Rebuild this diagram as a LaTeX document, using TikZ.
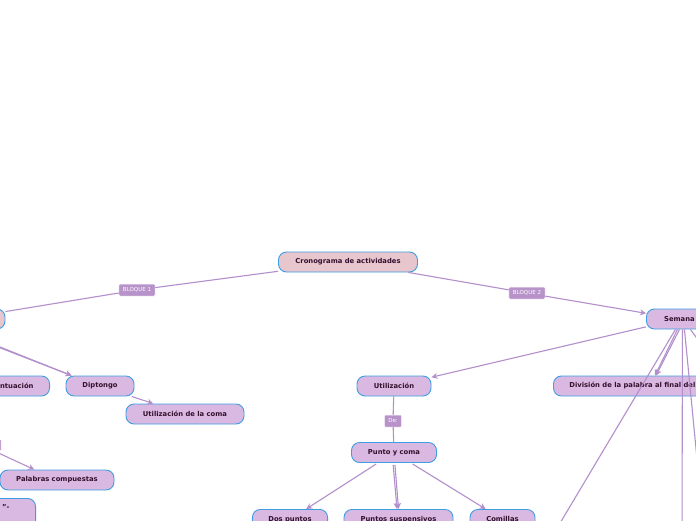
\documentclass[tikz,border=0pt]{standalone}
\usepackage{fontspec}
\setmainfont{DejaVu Sans}
\usetikzlibrary{arrows.meta}
\definecolor{edgec}{HTML}{B38FCB}
\definecolor{nodefill}{HTML}{D9B9E1}
\definecolor{rootfill}{HTML}{E7C6CE}
\definecolor{bord}{HTML}{3E9EE3}
\definecolor{txt}{HTML}{33102E}
\definecolor{lblfill}{HTML}{B793CA}
\tikzset{
 topic/.style={draw=bord, line width=0.9pt, fill=nodefill, rounded corners=8pt, minimum height=20pt, inner xsep=16pt, inner ysep=0pt, font=\fontsize{6.8}{8}\selectfont\bfseries, text=txt},
 rootnode/.style={topic, fill=rootfill},
 lbl/.style={fill=lblfill, draw=white, line width=0.5pt, rounded corners=1pt, font=\fontsize{5.5}{6}\selectfont, text=white, inner xsep=4pt, minimum height=12pt, inner ysep=0pt},
 conn/.style={draw=edgec, line width=1.1pt},
 arr/.style={conn, -{Stealth[length=6pt,width=6pt]}},
}
\begin{document}
\begin{tikzpicture}[x=1pt,y=-1pt]
\useasboundingbox (0,0) rectangle (696,520);
\fill[white] (0,0) rectangle (696,520);
% coordinates for free ends
\coordinate (src) at (-100,307);
\coordinate (e1) at (547,545);
\coordinate (e2) at (682,545);
\coordinate (e3) at (701,500);
\coordinate (e4) at (720,370);
% nodes
\node[rootnode, minimum width=139pt] (root) at (348,262) {Cronograma de actividades};
\node[rootnode, minimum width=90pt] (b1) at (-40,319) {};
\node[topic, minimum width=66pt, anchor=west] (sem) at (646,319) {Semana};
\node[topic, anchor=east] (punt) at (50,386) {Puntuación};
\node[topic, minimum width=68pt] (dip) at (100,386) {Diptongo};
\node[topic, minimum width=118pt] (coma) at (185,414) {Utilización de la coma};
\node[lbl, minimum width=40pt] (l3) at (-19,445) {};
\node[topic, minimum width=114pt] (comp) at (57,480) {Palabras compuestas};
\node[topic, anchor=north east, minimum width=90pt, minimum height=40pt] (qbox) at (36,498) {};
\node[font=\fontsize{6.8}{8}\selectfont\bfseries, text=txt, anchor=west, inner sep=0pt] (qtxt) at (2,507) {"-};
\node[topic, minimum width=74pt] (util) at (394,386) {Utilización};
\node[topic, minimum width=85pt] (pyc) at (394,452.5) {Punto y coma};
\node[topic, minimum width=75pt, anchor=north] (dos) at (290,509) {Dos puntos};
\node[topic, minimum width=109pt, anchor=north] (susp) at (398.5,509) {Puntos suspensivos};
\node[topic, minimum width=65pt, anchor=north] (comi) at (502.5,509) {Comillas};
\node[topic, anchor=west] (div) at (553,386) {División de la palabra al final del renglón};
% labels
\node[lbl] (bl1) at (137,290) {BLOQUE 1};
\node[lbl] (bl2) at (527,293) {BLOQUE 2};
\node[lbl] (de) at (393,421) {De:};
% connectors
\draw[conn] (root) -- (bl1) -- (b1);
\draw[arr] (root) -- (bl2) -- (sem);
\draw[arr] (sem) -- (util);
\draw[conn] (util) -- (de) -- (pyc);
\draw[arr, shorten <=2pt] (pyc) -- (dos);
\draw[arr, shorten <=2pt] ([xshift=-1pt]pyc.south) -- ([xshift=-1.5pt]susp.north);
\draw[arr, shorten <=2pt] ([xshift=0.8pt]pyc.south) -- ([xshift=0pt]susp.north);
\draw[arr, shorten <=2pt] (pyc) -- (comi);
\draw[arr] (src) -- ([xshift=6pt]dip.north west);
\draw[arr] ([yshift=-2pt]src) -- ([xshift=6pt]dip.north west);
\draw[arr] (dip) -- (coma);
\draw[arr] (l3) -- (comp);
\draw[conn] ([xshift=-4pt]sem.south) -- (e1);
\draw[arr] ([xshift=-2pt]sem.south) -- ([xshift=102pt]div.north west);
\draw[arr] ([xshift=0pt]sem.south) -- ([xshift=103pt]div.north west);
\draw[conn] ([xshift=3pt]sem.south) -- (e2);
\draw[conn] ([xshift=5pt]sem.south) -- (e3);
\draw[conn] ([xshift=11pt]sem.south) -- (e4);
\end{tikzpicture}
\end{document}
